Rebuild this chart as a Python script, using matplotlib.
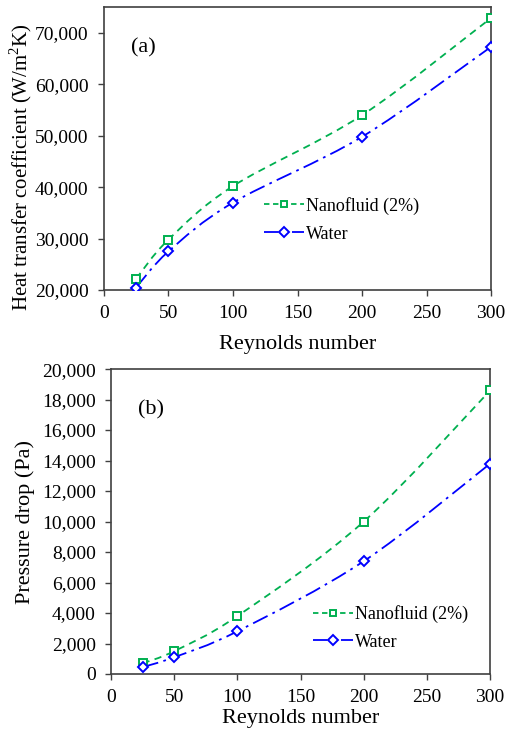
import numpy as np
import matplotlib
matplotlib.use("Agg")
import matplotlib.pyplot as plt
from matplotlib.path import Path
from matplotlib.patches import PathPatch
from matplotlib.lines import Line2D

plt.rcParams['font.family'] = ['Liberation Serif', 'DejaVu Serif']
plt.rcParams['mathtext.fontset'] = 'custom'
plt.rcParams['mathtext.rm'] = 'Liberation Serif'

# data
reynolds = [25, 50, 100, 200, 300]
htc_nano = [22200, 29800, 40200, 54000, 72900]
htc_water = [20500, 27500, 37000, 49800, 67300]
dp_nano = [700, 1500, 3800, 10000, 18600]
dp_water = [450, 1100, 2800, 7400, 13800]

green = '#00B050'
blue = '#0000FF'
spine_col = '#404040'


def smooth_path(x, y):
    # Excel-like smoothed line: cubic bezier segments through the points
    x = np.asarray(x, float)
    y = np.asarray(y, float)
    n = len(x)
    verts = [(x[0], y[0])]
    codes = [Path.MOVETO]
    for i in range(n - 1):
        i0 = max(i - 1, 0)
        i3 = min(i + 2, n - 1)
        c1 = (x[i] + (x[i + 1] - x[i0]) / 6, y[i] + (y[i + 1] - y[i0]) / 6)
        c2 = (x[i + 1] - (x[i3] - x[i]) / 6, y[i + 1] - (y[i3] - y[i]) / 6)
        verts += [c1, c2, (x[i + 1], y[i + 1])]
        codes += [Path.CURVE4] * 3
    return Path(verts, codes)


def draw(ax, ynano, ywater, ylim, ystep, tag, tag_y, ylabel, ylab_fs,
         ylab_xy, xlab_pad, leg_loc):
    for yy, col, ls, mk, ms in [(ynano, green, (0, (4, 3)), 's', 5.5),
                                 (ywater, blue, (0, (9, 3, 1.5, 3)), 'D', 5.5)]:
        ax.add_patch(PathPatch(smooth_path(reynolds, yy), fill=False,
                               edgecolor=col, lw=1.3, linestyle=ls))
        ax.plot(reynolds, yy, linestyle='none', marker=mk, ms=ms,
                mfc='white', mec=col, mew=1.4, zorder=3)
    ax.set_xlim(0, 300)
    ax.set_ylim(ylim)
    ax.set_xticks(range(0, 301, 50))
    ax.set_yticks(np.arange(ylim[0], ylim[1] + 1, ystep))
    ax.yaxis.set_major_formatter(plt.FuncFormatter(lambda v, p: f'{int(v):,}'))
    ax.tick_params(direction='out', length=4, width=1, color=spine_col,
                   labelsize=14)
    ax.tick_params(axis='y', pad=7)
    ax.tick_params(axis='x', pad=7)
    for s in ax.spines.values():
        s.set_color(spine_col)
        s.set_linewidth(1.2)
    ax.set_xlabel('Reynolds number', fontsize=16, labelpad=xlab_pad)
    ax.set_ylabel(ylabel, fontsize=ylab_fs)
    ax.yaxis.set_label_coords(*ylab_xy)
    ax.text(0.07, tag_y, tag, transform=ax.transAxes, fontsize=16,
            va='center', ha='left')
    handles = [Line2D([], [], color=green, ls=(0, (3, 2)), marker='s', ms=5,
                      mfc='white', mec=green, mew=1.4, lw=1.3),
               Line2D([], [], color=blue, ls=(0, (8, 3, 1.5, 3)), marker='D',
                      ms=5.5, mfc='white', mec=blue, mew=1.4, lw=1.3)]
    ax.legend(handles, ['Nanofluid (2%)', 'Water'], frameon=False,
              fontsize=13, loc='upper left', bbox_to_anchor=leg_loc,
              handlelength=2.2, handletextpad=0.1, labelspacing=0.6,
              borderaxespad=0)


fig = plt.figure(figsize=(5.09, 7.40), dpi=100)
ax1 = fig.add_axes([0.204, 0.608, 0.761, 0.3824])
ax2 = fig.add_axes([0.218, 0.0892, 0.745, 0.412])

draw(ax1, htc_nano, htc_water, (20000, 75000), 10000, '(a)', 0.855,
     'Heat transfer coefficient (W/m$^2$K)', 15, (-0.18, 0.435), 9,
     (0.395, 0.355))
draw(ax2, dp_nano, dp_water, (0, 20000), 2000, '(b)', 0.866,
     'Pressure drop (Pa)', 16, (-0.2, 0.5), 2, (0.515, 0.25))

fig.savefig('out.png', dpi=100)
